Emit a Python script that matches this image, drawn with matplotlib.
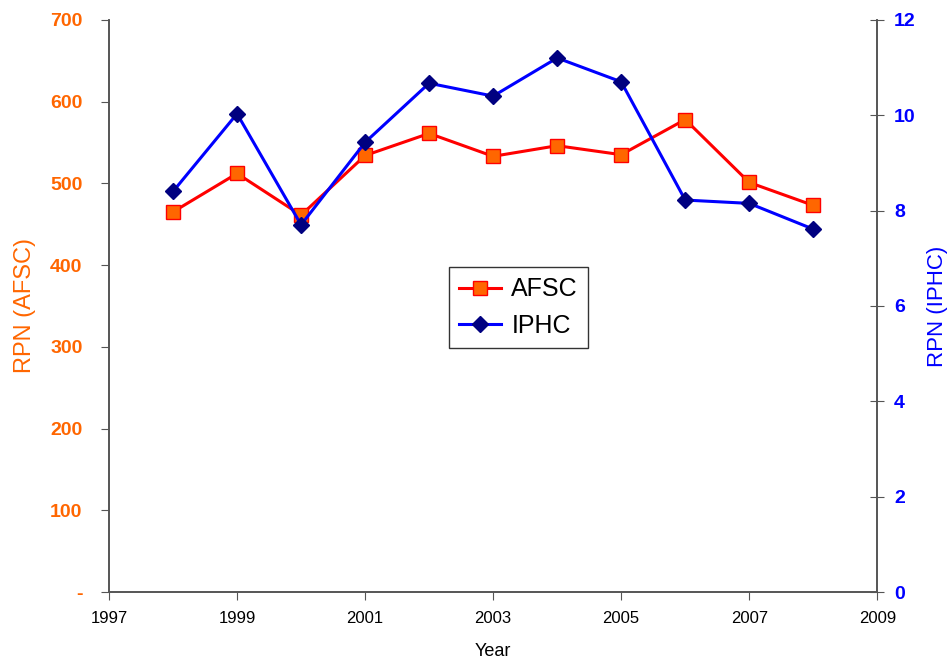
import numpy as np
import matplotlib
matplotlib.use('Agg')
import matplotlib.pyplot as plt
from matplotlib.ticker import FuncFormatter

plt.rcParams['font.family'] = ['Liberation Sans', 'DejaVu Sans']

# data
years = [1998, 1999, 2000, 2001, 2002, 2003, 2004, 2005, 2006, 2007, 2008]
afsc = [465, 512, 461, 534, 561, 533, 546, 535, 578, 501, 473]
iphc = [8.40, 10.03, 7.70, 9.43, 10.67, 10.40, 11.20, 10.70, 8.22, 8.15, 7.61]

orange = '#FF6600'
blue = '#0000FF'
spine_col = '#555555'

fig = plt.figure(figsize=(9.52, 6.6), dpi=100)
ax = fig.add_axes([0.1145, 0.103, 0.807, 0.867])
ax2 = ax.twinx()

l1, = ax.plot(years, afsc, color='red', lw=2.2, marker='s', ms=10,
              mfc=orange, mec='red', mew=1, label='AFSC', zorder=3)
l2, = ax2.plot(years, iphc, color=blue, lw=2.2, marker='D', ms=8,
               mfc='#000080', mec='#000080', label='IPHC', zorder=3)

ax.set_xlim(1997, 2009)
ax.set_xticks(np.arange(1997, 2010, 2))
ax.set_ylim(0, 700)
ax.set_yticks(np.arange(0, 701, 100))
ax.yaxis.set_major_formatter(FuncFormatter(lambda v, p: '-' if v == 0 else '%d' % v))
ax2.set_ylim(0, 12)
ax2.set_yticks(np.arange(0, 13, 2))

for a in (ax, ax2):
    a.spines['top'].set_visible(False)
    for s in ('left', 'right', 'bottom'):
        a.spines[s].set_color(spine_col)
        a.spines[s].set_linewidth(1.2)

ax.tick_params(axis='x', direction='out', length=6, color=spine_col, labelsize=12, pad=8)
ax.tick_params(axis='y', direction='out', length=6, color=spine_col, labelsize=14,
               labelcolor=orange, pad=13)
for t in ax.get_yticklabels():
    t.set_fontweight('bold')
ax2.tick_params(axis='y', direction='inout', length=10, color=spine_col, labelsize=14,
                labelcolor=blue, pad=7)
for t in ax2.get_yticklabels():
    t.set_fontweight('bold')

ax.set_xlabel('Year', fontsize=13, labelpad=12)
ax.set_ylabel('RPN (AFSC)', fontsize=17, color=orange, labelpad=10)
ax2.set_ylabel('RPN (IPHC)', fontsize=16, color=blue, labelpad=8)

leg = ax.legend(handles=[l1, l2], loc='center', bbox_to_anchor=(0.533, 0.497),
                fontsize=18, frameon=True, fancybox=False, handlelength=1.7,
                handletextpad=0.4, borderpad=0.4, labelspacing=0.5)
leg.get_frame().set_edgecolor('black')
leg.get_frame().set_linewidth(1.0)

fig.savefig('out.png', dpi=100)
